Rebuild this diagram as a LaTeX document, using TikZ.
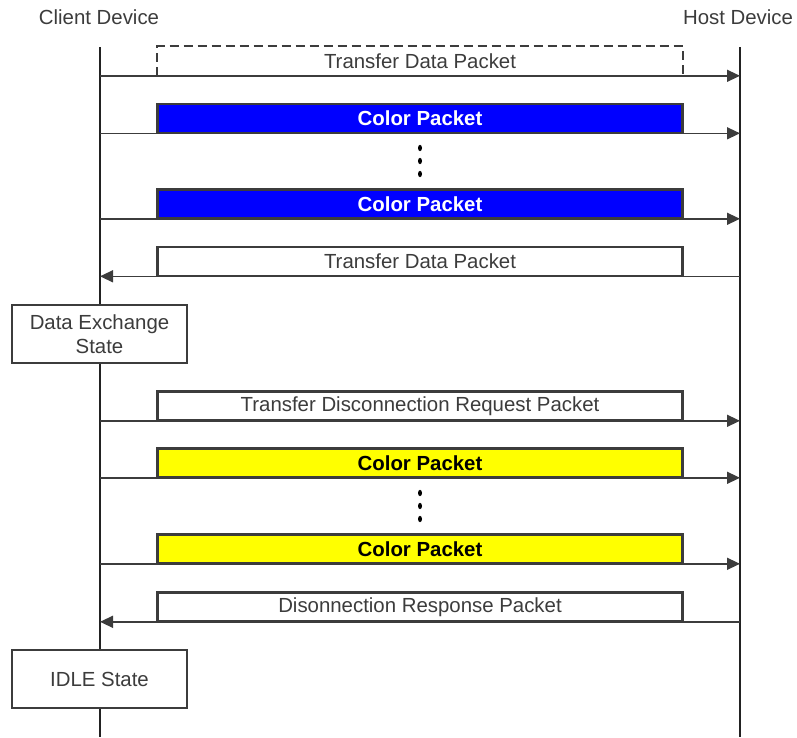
\documentclass[tikz,border=0pt]{standalone}
\usepackage{fontspec}
\setmainfont{Liberation Sans}
\usetikzlibrary{arrows.meta}
\definecolor{ink}{HTML}{3C3C3C}
\definecolor{dark}{HTML}{222222}
\definecolor{pblue}{HTML}{0000FF}
\definecolor{pyellow}{HTML}{FFFF00}
\tikzset{
  lifeline/.style={draw=dark, line width=1.4pt},
  msg/.style={draw=ink, line width=1.4pt, -{Triangle[length=13pt,width=12pt]}},
  pkt/.style={draw=ink, fill=white, line width=1.6pt, minimum width=524pt, minimum height=28pt, inner sep=0pt,
    font=\fontsize{20.4}{23}\selectfont, text=ink},
  dashpkt/.style={pkt, draw=none, fill=none},
  dashedge/.style={draw=ink, line width=1.6pt, dash pattern=on 9pt off 5pt},
  bluepkt/.style={pkt, fill=pblue, text=white, font=\fontsize{20.4}{23}\selectfont\bfseries},
  yellowpkt/.style={pkt, fill=pyellow, text=black, font=\fontsize{20.4}{23}\selectfont\bfseries},
  statebox/.style={draw=ink, fill=white, line width=1.6pt, minimum width=175pt, minimum height=58pt, inner sep=0pt,
    align=center, font=\fontsize{20.4}{24}\selectfont, text=ink},
  devtitle/.style={font=\fontsize{20.4}{23}\selectfont, text=ink, inner sep=0pt},
  vdot/.style={fill=black}
}
\begin{document}
\begin{tikzpicture}[x=1pt,y=-1pt]
\useasboundingbox (0,0) rectangle (797,737);
% titles
\node[devtitle] (client) at (99,17) {Client Device};
\node[devtitle] (host) at (738,17) {Host Device};
% lifelines
\coordinate (cl) at (100,47);
\coordinate (clend) at (100,737);
\coordinate (hl) at (740,47);
\coordinate (hlend) at (740,737);
\draw[lifeline] (cl) -- (clend);
\draw[lifeline] (hl) -- (hlend);
% packets
\node[dashpkt] (p1) at (420,61) {Transfer Data Packet};
\node[bluepkt] (p2) at (420,118.5) {Color Packet};
\node[bluepkt] (p3) at (420,204) {Color Packet};
\node[pkt] (p4) at (420,261.5) {Transfer Data Packet};
\node[pkt] (p5) at (420,406) {Transfer Disconnection Request Packet};
\node[yellowpkt] (p6) at (420,463) {Color Packet};
\node[yellowpkt] (p7) at (420,549) {Color Packet};
\node[pkt] (p8) at (420,607) {Disonnection Response Packet};
% messages
\draw[msg] (p1.south -| cl) -- (p1.south -| hl);
\draw[msg] (p2.south -| cl) -- (p2.south -| hl);
\draw[msg] (p3.south -| cl) -- (p3.south -| hl);
\draw[msg] (p4.south -| hl) -- (p4.south -| cl);
\draw[msg] (p5.south -| cl) -- (p5.south -| hl);
\draw[msg] (p6.south -| cl) -- (p6.south -| hl);
\draw[msg] (p7.south -| cl) -- (p7.south -| hl);
\draw[msg] (p8.south -| hl) -- (p8.south -| cl);
% redraw box outlines over the arrow lines
\foreach \n in {p2,p3,p4,p5,p6,p7,p8} {\draw[draw=ink, line width=1.6pt] (\n.south west) rectangle (\n.north east);}
\draw[dashedge] (p1.south west) -- (p1.north west) -- (p1.north east) -- (p1.south east);
% ellipsis dots
\foreach \y in {148,161,174,493,506,519} {\fill[vdot] (420,\y) ellipse (2pt and 3.2pt);}
% states
\node[statebox] (s1) at (99.5,334) {Data Exchange\\State};
\node[statebox] (s2) at (99.5,679) {IDLE State};
\end{tikzpicture}
\end{document}
